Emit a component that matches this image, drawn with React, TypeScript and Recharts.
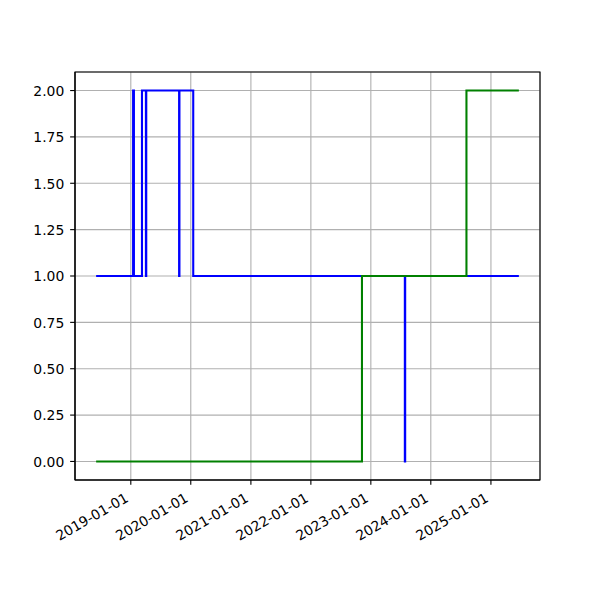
import React from 'react';
import { LineChart, Line, XAxis, YAxis, CartesianGrid, ReferenceArea } from 'recharts';

// blue series (step changes)
const blueDates = [
  '2018-06-04', '2019-01-15', '2019-01-20', '2019-03-10', '2019-04-03', '2019-04-05',
  '2019-10-22', '2019-10-24', '2020-01-16', '2023-07-27', '2023-07-29', '2025-06-20',
];
const blueValues = [1, 2, 1, 2, 1, 2, 1, 2, 1, 0, 1, 1];

// green series
const greenDates = ['2018-06-04', '2022-11-08', '2024-08-05', '2025-06-20'];
const greenValues = [0, 1, 2, 2];

const xTickLabels = ['2019-01-01', '2020-01-01', '2021-01-01', '2022-01-01', '2023-01-01', '2024-01-01', '2025-01-01'];
const yTicks = [0, 0.25, 0.5, 0.75, 1, 1.25, 1.5, 1.75, 2];

const FONT = 'DejaVu Sans';
const FS = 13.9;
const PT = 100 / 72; // matplotlib points -> px

const toRows = (dates: string[], values: number[]) =>
  dates.map((d, i) => ({ t: Date.parse(d), v: values[i] }));

const blueData = toRows(blueDates, blueValues);
const greenData = toRows(greenDates, greenValues);
const xTicks = xTickLabels.map(d => Date.parse(d));

const allT = [...blueData, ...greenData].map(r => r.t);
const tMin = Math.min(...allT);
const tMax = Math.max(...allT);
const pad = (tMax - tMin) * 0.05;
const xDomain: [number, number] = [tMin - pad, tMax + pad];
const yDomain: [number, number] = [-0.1, 2.1];

const fmtDate = (t: number) => new Date(t).toISOString().slice(0, 10);

const XTick = (props: any) => {
  const { x, y, payload } = props;
  return (
    <text
      transform={`translate(${x - 1.5}, ${y + 11}) rotate(-30)`}
      textAnchor="end"
      fontFamily={FONT}
      fontSize={FS}
      fill="#000"
    >
      {fmtDate(payload.value)}
    </text>
  );
};

const YTick = (props: any) => {
  const { x, y, payload } = props;
  return (
    <text x={x - 1} y={y} dy="0.38em" textAnchor="end" fontFamily={FONT} fontSize={FS} fill="#000">
      {payload.value.toFixed(2)}
    </text>
  );
};

export default function App() {
  return (
    <div style={{ position: 'absolute', left: 0, top: 0, width: 600, height: 600, background: '#fff' }}>
      <LineChart width={600} height={600} margin={{ top: 72, right: 60, bottom: 0, left: 0 }}>
        <CartesianGrid stroke="#b0b0b0" strokeWidth={0.8 * PT} />
        <XAxis
          dataKey="t"
          type="number"
          domain={xDomain}
          ticks={xTicks}
          interval={0}
          height={120}
          tick={<XTick />}
          tickSize={3.5 * PT}
          tickMargin={3.5 * PT}
          stroke="#000"
          strokeWidth={0.8 * PT}
          allowDataOverflow
        />
        <YAxis
          type="number"
          domain={yDomain}
          ticks={yTicks}
          interval={0}
          width={75}
          tick={<YTick />}
          tickSize={3.5 * PT}
          tickMargin={3.5 * PT}
          stroke="#000"
          strokeWidth={0.8 * PT}
          allowDataOverflow
        />
        <ReferenceArea
          x1={xDomain[0]}
          x2={xDomain[1]}
          y1={yDomain[0]}
          y2={yDomain[1]}
          fill="none"
          stroke="#000"
          strokeWidth={0.8 * PT}
        />
        <Line
          data={blueData}
          dataKey="v"
          type="stepAfter"
          stroke="#0000ff"
          strokeWidth={1.5 * PT}
          dot={false}
          isAnimationActive={false}
        />
        <Line
          data={greenData}
          dataKey="v"
          type="stepAfter"
          stroke="#008000"
          strokeWidth={1.5 * PT}
          dot={false}
          isAnimationActive={false}
        />
      </LineChart>
    </div>
  );
}
